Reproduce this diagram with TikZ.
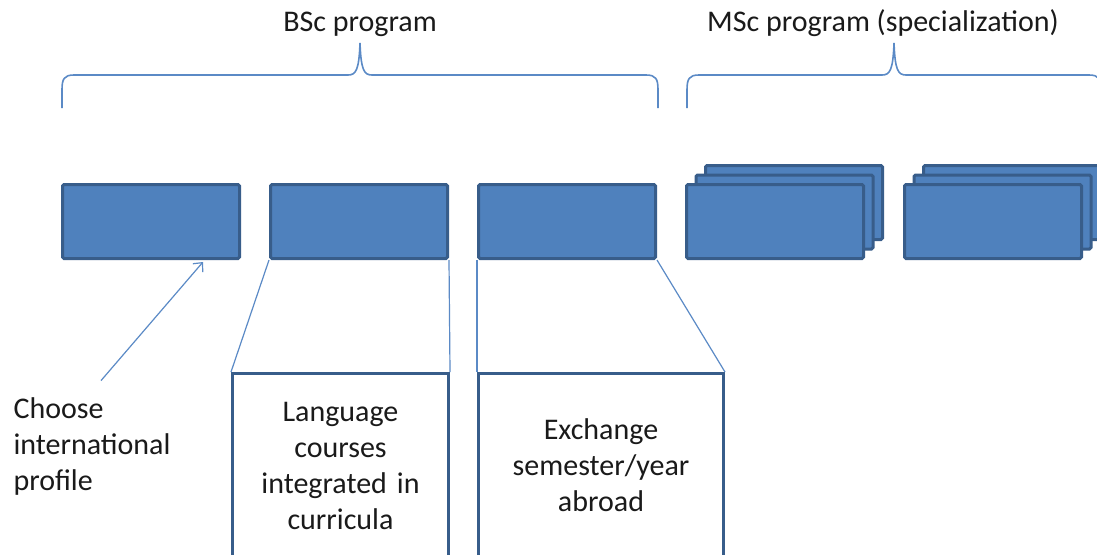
\documentclass[tikz,border=0pt]{standalone}
\usepackage{fontspec}
\setmainfont{Carlito}
\usetikzlibrary{arrows.meta,calc}
\definecolor{boxfill}{HTML}{4F81BD}
\definecolor{boxedge}{HTML}{385D8A}
\definecolor{thinline}{HTML}{5B8AC6}
\definecolor{ink}{HTML}{1A1A1A}
\begin{document}
\begin{tikzpicture}[x=1pt,y=-1pt,
  every node/.style={font=\fontsize{30}{36}\selectfont, text=ink},
  course/.style={draw=boxedge, fill=boxfill, line width=3pt, rounded corners=1.5pt,
    minimum width=177pt, minimum height=74pt, inner sep=0pt, anchor=north west},
  detail/.style={draw=boxedge, fill=white, line width=3pt,
    minimum height=184pt, inner sep=0pt, anchor=north west, align=center},
  link/.style={draw=thinline, line width=1.2pt},
  brace/.style={draw=thinline, line width=1.6pt},
  label/.style={anchor=base}]
\clip (0,0) rectangle (1097,554);
\fill[white] (0,0) rectangle (1097,554);

% headings
\node[label] (bsc) at (360,31) {BSc program};
\node[label] (msc) at (883,31) {MSc program (specialization)};

% curly braces under the headings
\draw[brace] (62,108) -- (62,90) .. controls (62,79) and (64,75) .. (74,75)
  -- (348,75) .. controls (356,75) and (359,70) .. (360,43)
  .. controls (361,70) and (364,75) .. (372,75)
  -- (646,75) .. controls (656,75) and (658,79) .. (658,90) -- (658,108);
\draw[brace] (687,108) -- (687,90) .. controls (687,79) and (689,75) .. (699,75)
  -- (882,75) .. controls (890,75) and (893,70) .. (894,43)
  .. controls (895,70) and (898,75) .. (906,75)
  -- (1089,75) .. controls (1099,75) and (1101,79) .. (1101,90) -- (1101,108);

% BSc courses
\node[course] (b1) at (61,183) {};
\node[course] (b2) at (269,183) {};
\node[course] (b3) at (477,183) {};

% MSc course stacks
\node[course] (m1c) at (704,164) {};
\node[course] (m1b) at (694.5,173.5) {};
\node[course] (m1a) at (685,183) {};
\node[course] (m2c) at (922,164) {};
\node[course] (m2b) at (912.5,173.5) {};
\node[course] (m2a) at (903,183) {};

% detail boxes
\node[detail, minimum width=216pt, text width=200pt] (lang) at (231,372)
  {Language\\courses\\integrated in\\curricula};
\node[detail, minimum width=245pt, text width=230pt] (exch) at (477,372)
  {Exchange\\semester/year\\abroad};

% zoom lines from courses to details
\draw[link] (b2.south west) -- (lang.north west);
\draw[link] (b2.south east) -- (lang.north east);
\draw[link] (b3.south west) -- (exch.north west);
\draw[link] (b3.south east) -- (exch.north east);

% profile choice
\node[align=left, anchor=west] (choose) at (10,446)
  {Choose\\international\\profile};
\coordinate (chooseTip) at ($(choose.north)+(9,-13)$);
\draw[link, -{Straight Barb[length=7pt,width=13pt,line width=1.2pt]}]
  (chooseTip) -- ($(b1.south west)+(142,2)$);
\end{tikzpicture}
\end{document}
